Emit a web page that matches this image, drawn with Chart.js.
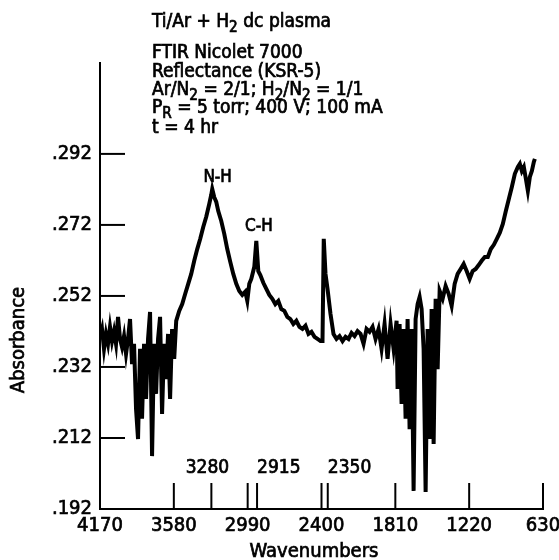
<!DOCTYPE html>
<html>
<head>
<meta charset="utf-8">
<script src="https://cdn.jsdelivr.net/npm/chart.js@4.4.0/dist/chart.umd.min.js"></script>
<style>
  body { margin: 0; background: #fff; }
  #wrap { width: 559px; height: 560px; }
</style>
</head>
<body>
<div id="wrap"><canvas id="myChart" width="559" height="560"></canvas></div>
<script>
// FTIR reflectance spectrum
const wavenumbers = [4170,4154,4138,4122,4106,4090,4074,4058,4042,4026,4010,3994,3978,3962,3946,3930,3914,3898,3882,3866,
  3850,3834,3818,3802,3786,3770,3754,3738,3722,3706,3690,3674,3658,3642,3626,3610,3594,3577,3561,3537,
  3513,3489,3465,3441,3417,3393,3369,3345,3321,3297,3281,3273,3257,3241,3225,3201,3177,3153,3129,3105,
  3081,3057,3033,3009,2993,2977,2961,2937,2921,2905,2889,2865,2841,2817,2793,2769,2745,2721,2697,2673,
  2649,2625,2601,2576,2552,2528,2504,2480,2456,2432,2408,2392,2382,2368,2352,2328,2304,2280,2256,2232,
  2208,2184,2160,2136,2112,2088,2064,2040,2016,1992,1968,1944,1920,1896,1872,1848,1824,1800,1792,1776,
  1760,1744,1728,1712,1696,1680,1664,1648,1632,1616,1600,1584,1568,1552,1536,1520,1504,1488,1472,1456,
  1432,1408,1384,1360,1336,1312,1288,1264,1240,1216,1192,1168,1144,1120,1095,1071,1047,1023,999,975,
  951,927,903,879,855,831,815,799,783,767,751,735,719,703,695];
const absorbance = [.2405,.2427,.2371,.2413,.2385,.2433,.2393,.2421,.2385,.2461,.2399,.2376,.2407,.2357,.2399,.2455,.2328,.2385,.2202,.2117,
  .2371,.2174,.2385,.2230,.2399,.2475,.2069,.2385,.2244,.2399,.2461,.2188,.2385,.2286,.2413,.2230,.2427,.2343,.2450,.2478,
  .2497,.2526,.2554,.2582,.2619,.2652,.2681,.2714,.2743,.2779,.2805,.2821,.2798,.2785,.2759,.2731,.2695,.2652,.2616,.2582,
  .2554,.2534,.2523,.2532,.2506,.2554,.2568,.2602,.2675,.2590,.2579,.2557,.2540,.2523,.2512,.2497,.2506,.2483,.2478,.2461,
  .2455,.2441,.2450,.2433,.2427,.2436,.2413,.2419,.2405,.2399,.2393,.2393,.2681,.2582,.2540,.2469,.2413,.2399,.2407,.2393,
  .2405,.2399,.2416,.2407,.2421,.2413,.2385,.2427,.2419,.2433,.2399,.2427,.2371,.2441,.2343,.2441,.2371,.2450,.2258,.2441,
  .2216,.2427,.2174,.2455,.2145,.2427,.1971,.2455,.2497,.2517,.2483,.2371,.1968,.2427,.2117,.2483,.2103,.2512,.2314,.2534,
  .2512,.2548,.2526,.2492,.2554,.2582,.2596,.2610,.2590,.2568,.2590,.2596,.2607,.2619,.2630,.2630,.2652,.2664,.2681,.2698,
  .2723,.2759,.2793,.2827,.2864,.2883,.2892,.2872,.2883,.2850,.2816,.2855,.2872,.2898,.2906];

const xTicks = [4170, 3580, 2990, 2400, 1810, 1220, 630];
const yTicks = [.192, .212, .232, .252, .272, .292];
const xMarks = [3580, 3280, 2990, 2915, 2400, 2350, 1810, 1220, 630]; // inward tick marks
const bandLabels = ['3280', '2915', '2350'];
const peakNames = ['N-H', 'C-H'];
const titleLines = [   // [text, subscript?] pieces
  [['Ti/Ar + H', 0], ['2', 1], [' dc plasma', 0]],
  [['FTIR Nicolet 7000', 0]],
  [['Reflectance (KSR-5)', 0]],
  [['Ar/N', 0], ['2', 1], [' = 2/1; H', 0], ['2', 1], ['/N', 0], ['2', 1], [' = 1/1', 0]],
  [['P', 0], ['R', 1], [' = 5 torr; 400 V; 100 mA', 0]],
  [['t = 4 hr', 0]]
];

const FONT = "'Liberation Sans Narrow', 'DejaVu Sans Condensed', sans-serif";

// fill + thin stroke so the text looks as heavy as the scan
function ink(ctx, t, x, y) {
  ctx.fillText(t, x, y);
  ctx.strokeText(t, x, y);
}

function drawPieces(ctx, pieces, x, y, size) {
  pieces.forEach(p => {
    ctx.font = (p[1] ? size * 0.8 : size) + 'px ' + FONT;
    ink(ctx, p[0], x, p[1] ? y + 5 : y);
    x += ctx.measureText(p[0]).width;
  });
}

const extras = {
  id: 'extras',
  afterDraw(chart) {
    const ctx = chart.ctx, xs = chart.scales.x, ys = chart.scales.y;
    const area = chart.chartArea;
    ctx.save();
    ctx.strokeStyle = '#000';
    ctx.fillStyle = '#000';
    ctx.lineWidth = 2;
    // y tick marks pointing into the plot
    yTicks.slice(1).forEach(v => {
      const py = ys.getPixelForValue(v);
      ctx.beginPath(); ctx.moveTo(area.left, py); ctx.lineTo(area.left + 25, py); ctx.stroke();
    });
    // x tick marks pointing up
    xMarks.forEach(v => {
      const px = xs.getPixelForValue(v);
      ctx.beginPath(); ctx.moveTo(px, area.bottom); ctx.lineTo(px, area.bottom - 26); ctx.stroke();
    });
    ctx.lineWidth = 0.7;
    // band positions above the marks
    ctx.font = '19px ' + FONT;
    ctx.textBaseline = 'alphabetic';
    bandLabels.forEach((t, i) => {
      const px = xs.getPixelForValue(+t);
      ctx.textAlign = i === 0 ? 'center' : 'left';
      ink(ctx, t, i === 0 ? px - 4 : px, area.bottom - 36);
    });
    // peak names
    ctx.textAlign = 'center';
    ctx.font = '17px ' + FONT;
    ink(ctx, peakNames[0], xs.getPixelForValue(3230), ys.getPixelForValue(0.2840));
    ink(ctx, peakNames[1], xs.getPixelForValue(2900), ys.getPixelForValue(0.2702));
    // axis titles
    ctx.font = '20px ' + FONT;
    ink(ctx, 'Wavenumbers', 314, 557);
    ctx.save();
    ctx.translate(24, 340);
    ctx.rotate(-Math.PI / 2);
    ink(ctx, 'Absorbance', 0, 0);
    ctx.restore();
    // caption block
    ctx.textAlign = 'left';
    const baselines = [27, 58, 77, 95, 113, 133];
    titleLines.forEach((line, i) => drawPieces(ctx, line, 152, baselines[i], 19));
    ctx.restore();
  }
};

new Chart(document.getElementById('myChart'), {
  type: 'line',
  data: {
    datasets: [{
      data: wavenumbers.map((w, i) => ({ x: w, y: absorbance[i] })),
      borderColor: '#000',
      borderWidth: 4,
      pointRadius: 0,
      tension: 0
    }]
  },
  options: {
    responsive: false,
    animation: false,
    layout: { padding: { top: 63, right: 16, left: 0, bottom: 0 } },
    plugins: { legend: { display: false }, tooltip: { enabled: false } },
    scales: {
      x: {
        type: 'linear',
        reverse: true,
        min: 630,
        max: 4170,
        afterBuildTicks: s => { s.ticks = xTicks.map(v => ({ value: v })); },
        afterFit: s => { s.height = 51; s.paddingLeft = 0; s.paddingRight = 0; },
        ticks: { color: '#000', font: { size: 20, family: FONT }, padding: 5, autoSkip: false, maxRotation: 0,
          textStrokeColor: '#000', textStrokeWidth: 0.7, callback: v => String(v) },
        grid: { display: false, drawTicks: false },
        border: { display: true, color: '#000', width: 2 }
      },
      y: {
        min: 0.192,
        max: 0.3176,
        afterBuildTicks: s => { s.ticks = yTicks.map(v => ({ value: v })); },
        afterFit: s => { s.width = 100; s.paddingTop = 0; s.paddingBottom = 0; },
        ticks: { color: '#000', font: { size: 20, family: FONT }, padding: 8,
          textStrokeColor: '#000', textStrokeWidth: 0.7, callback: v => v.toFixed(3).slice(1) },
        grid: { display: false, drawTicks: false },
        border: { display: true, color: '#000', width: 2 }
      }
    }
  },
  plugins: [extras]
});
</script>
</body>
</html>
